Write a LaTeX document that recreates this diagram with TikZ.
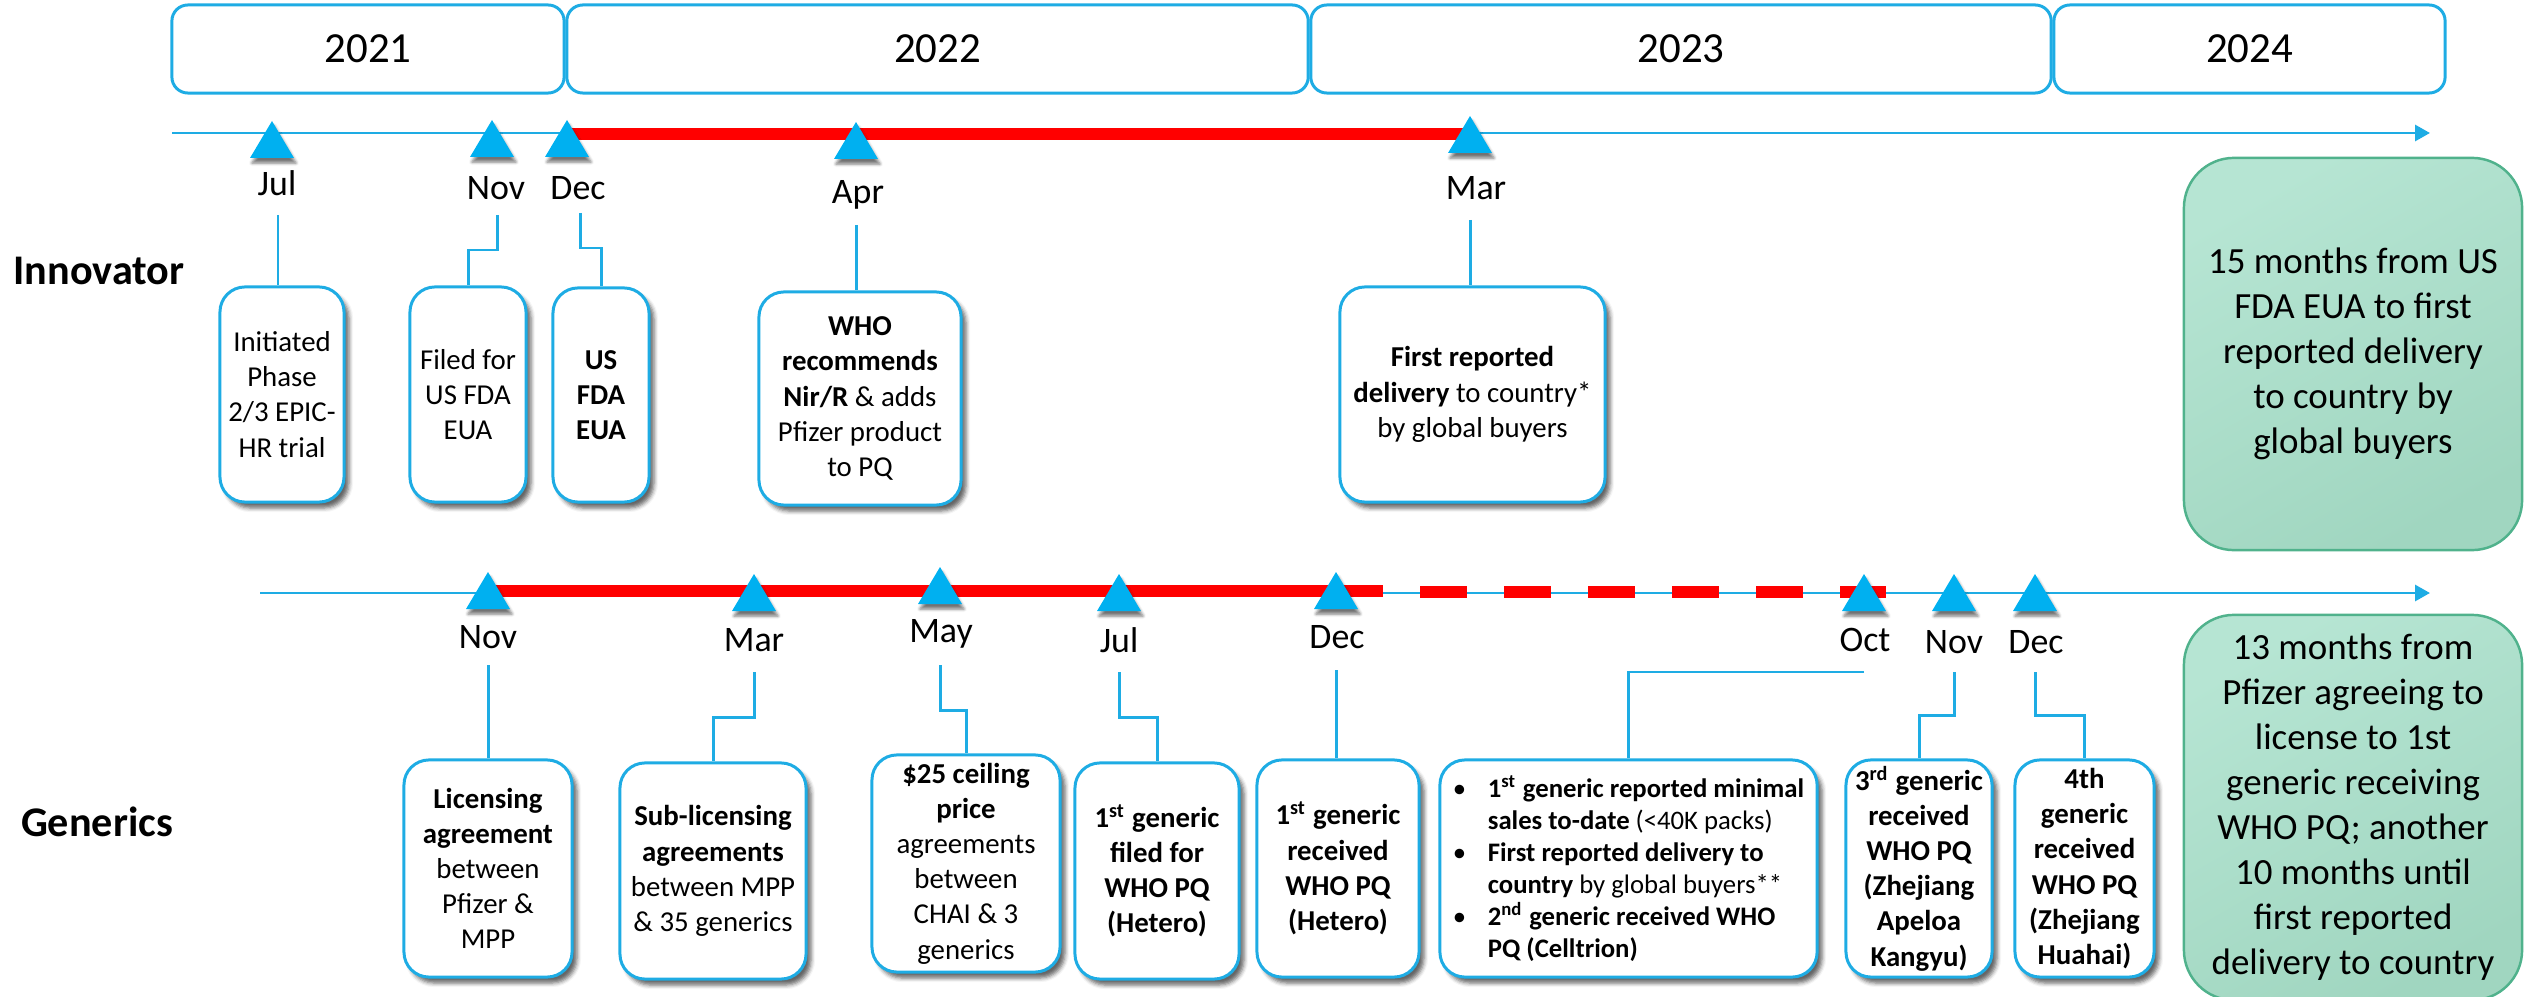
\documentclass[tikz,border=0pt]{standalone}
\usepackage{fontspec}
\setmainfont{Carlito}
\usetikzlibrary{calc,arrows.meta,shadows.blur}
\definecolor{lblue}{RGB}{30,172,228}
\definecolor{tblue}{RGB}{0,176,240}
\definecolor{redbar}{RGB}{255,0,0}
\definecolor{gfillA}{RGB}{182,229,211}
\definecolor{gfillB}{RGB}{160,214,192}
\definecolor{gborder}{RGB}{80,178,140}
\tikzset{
  yearbox/.style={draw=lblue, line width=0.85pt, rounded corners=0.16cm, fill=white, inner sep=0pt, font=\fontsize{12.2}{14}\selectfont},
  evbox/.style={draw=lblue, line width=0.85pt, rounded corners=0.25cm, fill=white, inner sep=0pt, align=center,
    font=\fontsize{8.2}{10}\selectfont,
    blur shadow={shadow xshift=0.05cm, shadow yshift=-0.06cm, shadow blur radius=0.04cm, shadow opacity=60}},
  month/.style={font=\fontsize{10.2}{12}\selectfont, inner sep=0pt},
  conn/.style={draw=lblue, line width=0.85pt},
  axisline/.style={draw=lblue, line width=0.85pt, -{Triangle[length=0.15cm,width=0.16cm]}},
  redline/.style={draw=redbar, line width=0.12cm},
  tri/.style={fill=tblue, blur shadow={shadow xshift=0.02cm, shadow yshift=-0.05cm, shadow blur radius=0.03cm, shadow opacity=55}},
  greenbox/.style={draw=gborder, line width=0.7pt, rounded corners=0.5cm, top color=gfillA, bottom color=gfillB, shading angle=30,
    align=center, inner sep=0pt, font=\fontsize{10.5}{12.8}\selectfont},
  rowlabel/.style={font=\bfseries\fontsize{12}{14}\selectfont, inner sep=0pt}
}
\begin{document}
\begin{tikzpicture}[x=0.01cm, y=-0.01cm]
\useasboundingbox (0,0) rectangle (2524,997);
\clip (0,0) rectangle (2524,997);

% year boxes
\node[yearbox, minimum width=3.92cm, minimum height=0.88cm] (y21) at (368,49) {2021};
\node[yearbox, minimum width=7.41cm, minimum height=0.88cm] (y22) at (937.5,49) {2022};
\node[yearbox, minimum width=7.40cm, minimum height=0.88cm] (y23) at (1681,49) {2023};
\node[yearbox, minimum width=3.91cm, minimum height=0.88cm] (y24) at (2249.5,49) {2024};

% row labels
\node[rowlabel] (innov) at (99,271) {Innovator};
\node[rowlabel] (gener) at (97,822) {Generics};

% axes
\coordinate (axAs) at (172,133);
\coordinate (axAe) at (2430,133);
\coordinate (axBs) at (260,593);
\coordinate (axBe) at (2430,593);
\draw[axisline] (axAs) -- (axAe);
\draw[axisline] (axBs) -- (axBe);

% red bars
\coordinate (rAs) at (568,134);
\coordinate (rAe) at (1469,134);
\draw[redline] (rAs) -- (rAe);
\coordinate (rBs) at (488,591);
\coordinate (rBm) at (1383,591);
\coordinate (rDs) at (1420,592);
\coordinate (rDe) at (1886,592);
\draw[redline] (rBs) -- (rBm);
\draw[redline, dash pattern=on 0.47cm off 0.37cm] (rDs) -- (rDe);

% triangles (top)
\fill[tri] (272,121) -- ++(22,37) -- ++(-44,0) -- cycle;
\fill[tri] (492,120) -- ++(22,37) -- ++(-44,0) -- cycle;
\fill[tri] (567,120) -- ++(22,37) -- ++(-44,0) -- cycle;
\fill[tri] (856,122) -- ++(22,37) -- ++(-44,0) -- cycle;
\fill[tri] (1470,116) -- ++(22,37) -- ++(-44,0) -- cycle;
% triangles (bottom)
\fill[tri] (488,572) -- ++(22,37) -- ++(-44,0) -- cycle;
\fill[tri] (754,574) -- ++(22,37) -- ++(-44,0) -- cycle;
\fill[tri] (940,567) -- ++(22,37) -- ++(-44,0) -- cycle;
\fill[tri] (1119,574) -- ++(22,37) -- ++(-44,0) -- cycle;
\fill[tri] (1336,572) -- ++(22,37) -- ++(-44,0) -- cycle;
\fill[tri] (1864,574) -- ++(22,37) -- ++(-44,0) -- cycle;
\fill[tri] (1954,574) -- ++(22,37) -- ++(-44,0) -- cycle;
\fill[tri] (2035,574) -- ++(22,37) -- ++(-44,0) -- cycle;

% month labels
\node[month] (jul1) at (277,183) {Jul};
\node[month] (nov1) at (496,188) {Nov};
\node[month] (dec1) at (578,188) {Dec};
\node[month] (apr1) at (858,195) {Apr};
\node[month] (mar1) at (1476,188) {Mar};
\node[month] (nov2) at (488,637) {Nov};
\node[month] (mar2) at (754,640) {Mar};
\node[month] (may2) at (941,634) {May};
\node[month] (jul2) at (1119,640) {Jul};
\node[month] (dec2) at (1337,637) {Dec};
\node[month] (oct2) at (1865,640) {Oct};
\node[month] (nov3) at (1954,642) {Nov};
\node[month] (dec3) at (2036,642) {Dec};

% innovator boxes
\node[evbox, minimum width=1.24cm, minimum height=2.15cm] (ib1) at (282,394.5) {Initiated\\Phase\\2/3 EPIC-\\HR trial};
\node[evbox, minimum width=1.16cm, minimum height=2.15cm] (ib2) at (468,394.5) {Filed for\\US FDA\\EUA};
\node[evbox, minimum width=0.96cm, minimum height=2.14cm] (ib3) at (601,395) {\textbf{US}\\\textbf{FDA}\\\textbf{EUA}};
\node[evbox, minimum width=2.02cm, minimum height=2.13cm] (ib4) at (860,398.5) {\textbf{WHO}\\\textbf{recommends}\\\textbf{Nir/R} \& adds\\Pfizer product\\to PQ};
\node[evbox, minimum width=2.65cm, minimum height=2.15cm] (ib5) at (1472.5,394.5) {\textbf{First reported}\\\textbf{delivery} to country*\\by global buyers};

% generics boxes
\node[evbox, minimum width=1.68cm, minimum height=2.17cm] (gb1) at (488,868.5) {\textbf{Licensing}\\\textbf{agreement}\\between\\Pfizer \&\\MPP};
\node[evbox, minimum width=1.86cm, minimum height=2.16cm] (gb2) at (713,871) {\textbf{Sub-licensing}\\\textbf{agreements}\\between MPP\\\& 35 generics};
\node[evbox, minimum width=1.88cm, minimum height=2.17cm] (gb3) at (966,863.5) {\textbf{\$25 ceiling}\\\textbf{price}\\agreements\\between\\CHAI \& 3\\generics};
\node[evbox, minimum width=1.64cm, minimum height=2.16cm, font=\bfseries\fontsize{8.2}{10}\selectfont] (gb4) at (1157,871) {1\textsuperscript{st} generic\\filed for\\WHO PQ\\(Hetero)};
\node[evbox, minimum width=1.62cm, minimum height=2.17cm, font=\bfseries\fontsize{8.2}{10}\selectfont] (gb5) at (1338,868.5) {1\textsuperscript{st} generic\\received\\WHO PQ\\(Hetero)};
\node[evbox, minimum width=3.77cm, minimum height=2.17cm, align=left, font=\fontsize{7.6}{9.1}\selectfont] (gb6) at (1628.5,868.5) {%
\makebox[0.35cm][l]{\textbullet}\textbf{1\textsuperscript{st} generic reported minimal}\\
\hspace*{0.35cm}\textbf{sales to-date} (<40K packs)\\
\makebox[0.35cm][l]{\textbullet}\textbf{First reported delivery to}\\
\hspace*{0.35cm}\textbf{country} by global buyers**\\
\makebox[0.35cm][l]{\textbullet}\textbf{2\textsuperscript{nd} generic received WHO}\\
\hspace*{0.35cm}\textbf{PQ (Celltrion)}};
\node[evbox, minimum width=1.46cm, minimum height=2.17cm, font=\bfseries\fontsize{8.2}{10}\selectfont] (gb7) at (1919,868.5) {3\textsuperscript{rd} generic\\received\\WHO PQ\\(Zhejiang\\Apeloa\\Kangyu)};
\node[evbox, minimum width=1.39cm, minimum height=2.17cm, font=\bfseries\fontsize{8.2}{10}\selectfont] (gb8) at (2084.5,868.5) {4th\\generic\\received\\WHO PQ\\(Zhejiang\\Huahai)};

% green summary boxes
\node[greenbox, minimum width=3.38cm, minimum height=3.92cm] (gr1) at (2353,354) {15 months from US\\FDA EUA to first\\reported delivery\\to country by\\global buyers};
\node[greenbox, minimum width=3.38cm, minimum height=3.85cm] (gr2) at (2353,807.5) {13 months from\\Pfizer agreeing to\\license to 1st\\generic receiving\\WHO PQ; another\\10 months until\\first reported\\delivery to country};

% connectors (top)
\coordinate (c1) at ($(jul1)+(1,32)$);
\draw[conn] (c1) -- (c1 |- ib1.north);
\coordinate (c2) at ($(nov1)+(1,27)$);
\draw[conn] (c2) -- ++(0,35) -| (ib2.north);
\coordinate (c3) at ($(dec1)+(2,25)$);
\draw[conn] (c3) -- ++(0,35) -| (ib3.north);
\coordinate (c4) at ($(apr1)+(-2,30)$);
\draw[conn] (c4) -- (c4 |- ib4.north);
\coordinate (c5) at ($(mar1)+(-6,32)$);
\draw[conn] (c5) -- (c5 |- ib5.north);

% connectors (bottom)
\coordinate (d1) at ($(nov2)+(0,28)$);
\draw[conn] (d1) -- (d1 |- gb1.north);
\coordinate (d2) at ($(mar2)+(0,32)$);
\draw[conn] (d2) -- ++(0,45) -| (gb2.north);
\coordinate (d3) at ($(may2)+(-1,31)$);
\draw[conn] (d3) -- ++(0,45) -| (gb3.north);
\coordinate (d4) at ($(jul2)+(0,32)$);
\draw[conn] (d4) -- ++(0,45) -| (gb4.north);
\coordinate (d5) at ($(dec2)+(-1,33)$);
\draw[conn] (d5) -- (d5 |- gb5.north);
\coordinate (d6) at ($(oct2)+(-1,32)$);
\draw[conn] (d6) -| (gb6.north);
\coordinate (d7) at ($(nov3)+(0,30)$);
\draw[conn] (d7) -- ++(0,43) -| (gb7.north);
\coordinate (d8) at ($(dec3)+(-1,30)$);
\draw[conn] (d8) -- ++(0,43) -| (gb8.north);
\end{tikzpicture}
\end{document}
